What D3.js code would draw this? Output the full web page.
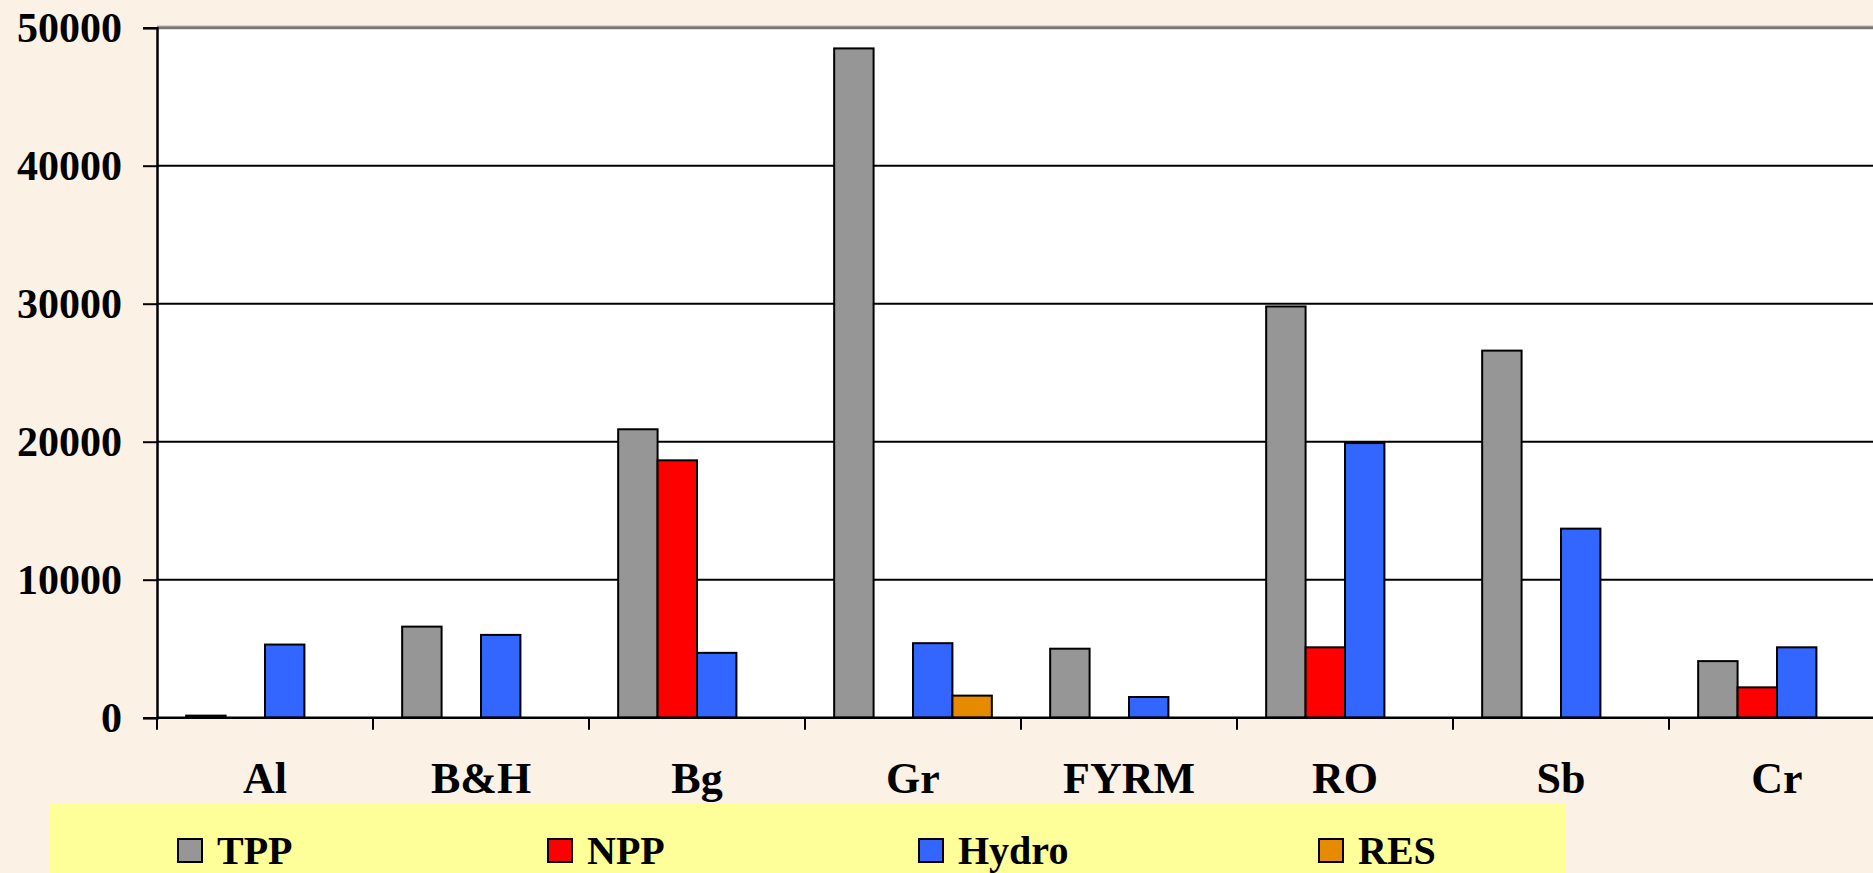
<!DOCTYPE html>
<html>
<head>
<meta charset="utf-8">
<script src="https://cdn.jsdelivr.net/npm/d3@7"></script>
<style>
  html, body { margin: 0; padding: 0; background: #FCF1E5; overflow: hidden; }
  svg { display: block; }
  text { font-family: "Liberation Serif", "Times New Roman", serif; font-weight: bold; fill: #000; }
</style>
</head>
<body>
<svg id="chart" width="1873" height="873"></svg>
<script>
// Installed capacity / production by plant type per country
const categories = ["Al", "B&H", "Bg", "Gr", "FYRM", "RO", "Sb", "Cr"];
const seriesNames = ["TPP", "NPP", "Hydro", "RES"];
const tppValues   = [150, 6600, 20900, 48500, 5000, 29800, 26600, 4100];
const nppValues   = [0, 0, 18650, 0, 0, 5100, 0, 2200];
const hydroValues = [5300, 6000, 4700, 5400, 1500, 19900, 13700, 5100];
const resValues   = [0, 0, 0, 1600, 0, 0, 0, 0];
const yTicks = [0, 10000, 20000, 30000, 40000, 50000];

const seriesColors = { TPP: "#969696", NPP: "#FF0000", Hydro: "#3366FF", RES: "#E68A00" };
const seriesValues = { TPP: tppValues, NPP: nppValues, Hydro: hydroValues, RES: resValues };

const svg = d3.select("#chart");

const plot = { left: 157, top: 27.7, bottom: 717.7, right: 1885 };

const x0 = d3.scaleBand().domain(categories).range([plot.left, plot.right]).paddingInner(0).paddingOuter(0);
const x1 = d3.scaleBand().domain(seriesNames).range([0, x0.bandwidth()]).paddingInner(0).paddingOuter(0.74);
const y = d3.scaleLinear().domain([0, 50000]).range([plot.bottom, plot.top]);

// thin tan rule above the plot area
svg.append("line")
  .attr("x1", plot.left).attr("x2", plot.right)
  .attr("y1", plot.top - 2).attr("y2", plot.top - 2)
  .attr("stroke", "#D9CBB8").attr("stroke-width", 1);

// plot background
svg.append("rect")
  .attr("x", plot.left).attr("y", plot.top)
  .attr("width", plot.right - plot.left).attr("height", plot.bottom - plot.top)
  .attr("fill", "#FFFFFF");

// horizontal gridlines
svg.append("g").selectAll("line")
  .data(yTicks.filter(v => v > 0))
  .join("line")
  .attr("x1", plot.left).attr("x2", plot.right)
  .attr("y1", d => y(d)).attr("y2", d => y(d))
  .attr("stroke", d => d === 50000 ? "#777777" : "#000000")
  .attr("stroke-width", d => d === 50000 ? 3 : 2);

// bars
const rows = categories.map((c, i) => ({
  cat: c,
  vals: seriesNames.map(s => ({ key: s, value: seriesValues[s][i] }))
}));

svg.append("g").selectAll("g")
  .data(rows)
  .join("g")
  .attr("transform", d => `translate(${x0(d.cat)},0)`)
  .selectAll("rect")
  .data(d => d.vals.filter(v => v.value > 0))
  .join("rect")
  .attr("x", d => x1(d.key))
  .attr("y", d => y(d.value))
  .attr("width", x1.bandwidth())
  .attr("height", d => y(0) - y(d.value))
  .attr("fill", d => seriesColors[d.key])
  .attr("stroke", "#000")
  .attr("stroke-width", 2);

// y axis
const yAxis = d3.axisLeft(y).tickValues(yTicks).tickSize(14).tickPadding(21).tickFormat(d3.format("d"));
const gy = svg.append("g").attr("transform", `translate(${plot.left},0)`).call(yAxis);
gy.select(".domain").attr("stroke", "#000").attr("stroke-width", 2.5);
gy.selectAll(".tick line").attr("stroke", "#000").attr("stroke-width", 2);
gy.selectAll(".tick text").style("font-size", "42px").attr("dy", "0.34em")
  .style("font-family", "'Liberation Serif', serif").style("font-weight", "bold");

// x axis baseline and category separators
svg.append("line")
  .attr("x1", plot.left).attr("x2", plot.right)
  .attr("y1", y(0)).attr("y2", y(0))
  .attr("stroke", "#000").attr("stroke-width", 2.5);

const boundaries = categories.map(c => x0(c)).concat([plot.right]);
svg.append("g").selectAll("line")
  .data(boundaries)
  .join("line")
  .attr("x1", d => d).attr("x2", d => d)
  .attr("y1", y(0)).attr("y2", y(0) + 12)
  .attr("stroke", "#000").attr("stroke-width", 2);

// category labels
svg.append("g").selectAll("text")
  .data(categories)
  .join("text")
  .attr("x", d => x0(d) + x0.bandwidth() / 2)
  .attr("y", 793)
  .attr("text-anchor", "middle")
  .style("font-size", "44px")
  .text(d => d);

// legend
const legend = svg.append("g");
legend.append("rect")
  .attr("x", 50).attr("y", 803).attr("width", 1515).attr("height", 80)
  .attr("fill", "#FFFF99");

const legendX = [178, 548, 919, 1319];
const items = legend.selectAll("g.item")
  .data(seriesNames)
  .join("g")
  .attr("class", "item")
  .attr("transform", (d, i) => `translate(${legendX[i]},0)`);
items.append("rect")
  .attr("x", 0).attr("y", 839).attr("width", 24).attr("height", 23)
  .attr("fill", d => seriesColors[d])
  .attr("stroke", "#000").attr("stroke-width", 2);
items.append("text")
  .attr("x", 39).attr("y", 864)
  .style("font-size", "40px")
  .text(d => d);
</script>
</body>
</html>
